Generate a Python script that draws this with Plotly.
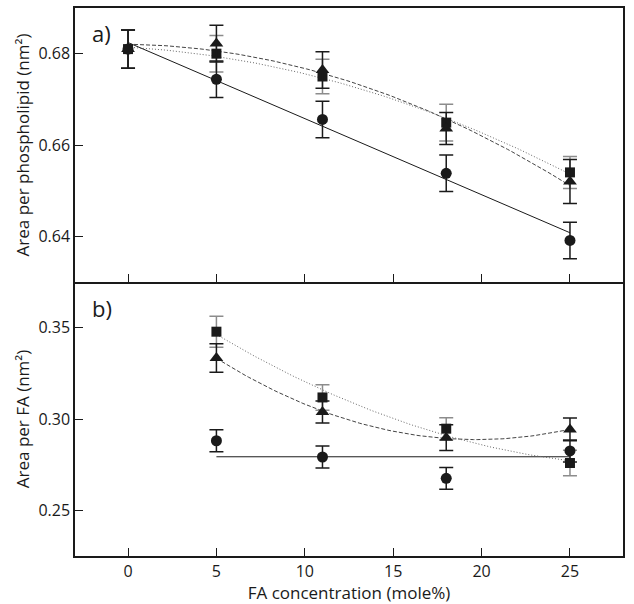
import numpy as np
import plotly.graph_objects as go
from plotly.subplots import make_subplots

# FA concentration (mole%)
conc = [0, 5, 11, 18, 25]
conc_fa = [5, 11, 18, 25]

# a) area per phospholipid (nm^2)
pl_circle = [0.681, 0.6744, 0.6656, 0.6538, 0.6391]
pl_circle_err = [0.0042, 0.0040, 0.0040, 0.0040, 0.0040]
pl_triangle = [0.681, 0.6822, 0.6764, 0.6636, 0.6520]
pl_triangle_err = [0.0042, 0.0040, 0.0040, 0.0035, 0.0048]
pl_square = [0.681, 0.6800, 0.6750, 0.6649, 0.6540]
pl_square_err = [0.0042, 0.0040, 0.0038, 0.0040, 0.0035]

# b) area per FA (nm^2)
fa_circle = [0.2881, 0.2792, 0.2675, 0.2825]
fa_circle_err = [0.006, 0.006, 0.006, 0.006]
fa_triangle = [0.3334, 0.3038, 0.2898, 0.2943]
fa_triangle_err = [0.0078, 0.006, 0.007, 0.0062]
fa_square = [0.3478, 0.3118, 0.2947, 0.2759]
fa_square_err = [0.0085, 0.007, 0.006, 0.007]

FONT = "Open Sans"
BLACK = "#1a1a1a"
GREY = "#8c8c8c"


def fit_curve(x, y, deg, x0, x1):
    xs = np.linspace(x0, x1, 100)
    return xs, np.polyval(np.polyfit(x, y, deg), xs)


fig = make_subplots(rows=2, cols=1, shared_xaxes=True, vertical_spacing=0)

panels = [
    (1, conc, pl_circle, pl_circle_err, pl_triangle, pl_triangle_err,
     pl_square, pl_square_err, 1, 0),
    (2, conc_fa, fa_circle, fa_circle_err, fa_triangle, fa_triangle_err,
     fa_square, fa_square_err, 0, 5),
]

for row, x, yc, ec, yt, et, ys, es, circ_deg, x0 in panels:
    # fitted curves
    fx, fy = fit_curve(x, yc, circ_deg, x0, 25)
    fig.add_trace(go.Scatter(x=fx, y=fy, mode="lines",
                             line=dict(color=BLACK, width=1)), row=row, col=1)
    fx, fy = fit_curve(x, yt, 2, x0, 25)
    fig.add_trace(go.Scatter(x=fx, y=fy, mode="lines",
                             line=dict(color="#444444", width=1, dash="4px,2px")), row=row, col=1)
    fx, fy = fit_curve(x, ys, 2, x0, 25)
    fig.add_trace(go.Scatter(x=fx, y=fy, mode="lines",
                             line=dict(color="#666666", width=1, dash="1px,2px")), row=row, col=1)

    # data points
    fig.add_trace(go.Scatter(x=x, y=ys, mode="markers",
                             marker=dict(symbol="square", size=10, color=BLACK),
                             error_y=dict(type="data", array=es, color=GREY, thickness=1.5, width=7)),
                  row=row, col=1)
    fig.add_trace(go.Scatter(x=x, y=yt, mode="markers",
                             marker=dict(symbol="triangle-up", size=12, color=BLACK),
                             error_y=dict(type="data", array=et, color=BLACK, thickness=1.5, width=7)),
                  row=row, col=1)
    fig.add_trace(go.Scatter(x=x, y=yc, mode="markers",
                             marker=dict(symbol="circle", size=11, color=BLACK),
                             error_y=dict(type="data", array=ec, color=BLACK, thickness=1.5, width=7)),
                  row=row, col=1)

axis_style = dict(showline=True, linecolor=BLACK, linewidth=1.5,
                  ticks="inside", ticklen=8, tickwidth=1.2, tickcolor=BLACK,
                  showgrid=False, zeroline=False, automargin=False,
                  tickfont=dict(family=FONT, size=16, color=BLACK))
title_font = dict(family=FONT, size=17, color=BLACK)

fig.update_xaxes(range=[-3, 28], tickvals=[0, 5, 10, 15, 20, 25], **axis_style)
fig.update_xaxes(showticklabels=False, mirror=True, row=1, col=1)
# top edge of panel b is the bottom line of panel a
fig.update_xaxes(mirror=False, title=dict(text="FA concentration (mole%)", standoff=0, font=title_font),
                 row=2, col=1)

fig.update_yaxes(mirror=True, **axis_style)
fig.update_yaxes(range=[0.63, 0.69], tickvals=[0.64, 0.66, 0.68], ticktext=["0.64", "0.66", "0.68"],
                 title=dict(text="Area per phospholipid (nm²)", standoff=4, font=title_font),
                 row=1, col=1)
fig.update_yaxes(range=[0.225, 0.375], tickvals=[0.25, 0.30, 0.35], ticktext=["0.25", "0.30", "0.35"],
                 title=dict(text="Area per FA (nm²)", standoff=4, font=title_font),
                 row=2, col=1)

fig.add_annotation(text="a)", xref="x domain", yref="y domain", x=0.028, y=0.91,
                   xanchor="left", yanchor="middle", showarrow=False,
                   font=dict(family=FONT, size=22, color=BLACK))
fig.add_annotation(text="b)", xref="x2 domain", yref="y2 domain", x=0.028, y=0.905,
                   xanchor="left", yanchor="middle", showarrow=False,
                   font=dict(family=FONT, size=22, color=BLACK))

fig.update_layout(width=634, height=604, showlegend=False,
                  margin=dict(l=75, r=11, t=8, b=48),
                  plot_bgcolor="white", paper_bgcolor="white")

fig.write_html("out.html", config={"displayModeBar": False},
               post_script="document.body.style.margin='0';")
